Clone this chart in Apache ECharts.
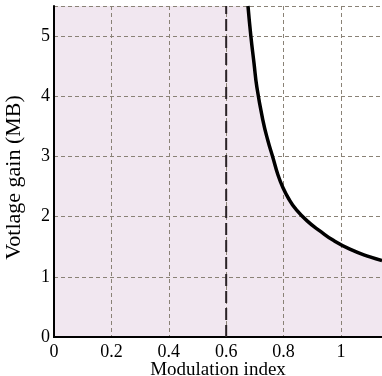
<!DOCTYPE html>
<html>
<head>
<meta charset="utf-8">
<script src="https://cdn.jsdelivr.net/npm/echarts@6/dist/echarts.min.js"></script>
<style>html,body{margin:0;padding:0;background:#fff}#c{width:382px;height:376px}</style>
</head>
<body>
<div id="c"></div>
<script>
// Data
var modIndex = [0.676, 0.686, 0.697, 0.707, 0.728, 0.745, 0.763, 0.78, 0.798, 0.82, 0.84, 0.882, 0.93, 0.972, 1.031, 1.101, 1.143];
var gain     = [5.5,   5.0,   4.55,  4.15,  3.6,   3.27,  2.98,  2.7,  2.48,  2.28, 2.14, 1.93,  1.75, 1.61,  1.46,  1.33,  1.27];
var refLineX = [0.6, 0.6];
var refLineY = [0, 5.5];
var xTicks = ['0', '0.2', '0.4', '0.6', '0.8', '1'];
var yTicks = ['0', '1', '2', '3', '4', '5'];
var xMax = 1.143, yMax = 5.5;

var curve = modIndex.map(function (m, i) { return [m, gain[i]]; });
var fill = [[0, yMax]].concat(curve);
var ref = refLineX.map(function (x, i) { return [x, refLineY[i]]; });

var font = '"Liberation Serif", "DejaVu Serif", serif';
var gridLine = {color: '#8a8276', type: [4, 3], width: 1};
var chart = echarts.init(document.getElementById('c'), null, {renderer: 'canvas'});
chart.setOption({
  animation: false,
  grid: {left: 54, top: 6, right: 0, bottom: 39, containLabel: false, outerBoundsMode: 'none'},
  xAxis: [{
    type: 'value', min: 0, max: xMax, interval: 0.2, z: 3,
    name: 'Modulation index', nameLocation: 'middle', nameGap: 24, nameMoveOverlap: false,
    nameTextStyle: {fontFamily: font, fontSize: 19, color: '#000'},
    axisLine: {show: true, onZero: false, lineStyle: {color: '#000', width: 2}},
    axisTick: {show: false},
    axisLabel: {fontFamily: font, fontSize: 18, color: '#000', margin: 6, showMaxLabel: false,
      formatter: function (v) { var k = Math.round(v / 0.2); return Math.abs(v - k * 0.2) < 1e-6 ? xTicks[k] : ''; }},
    splitLine: {show: true, lineStyle: gridLine}
  }, {
    type: 'value', position: 'top', min: 0, max: xMax, z: 3,
    axisLine: {show: true, lineStyle: {color: '#000', width: 2}},
    axisTick: {show: false}, axisLabel: {show: false}, splitLine: {show: false}
  }],
  yAxis: [{
    type: 'value', min: 0, max: yMax, interval: 1, z: 3,
    name: 'Votlage gain (MB)', nameLocation: 'middle', nameGap: 29,
    nameTextStyle: {fontFamily: font, fontSize: 22, color: '#000', padding: [0, 12, 0, 0]},
    axisLine: {show: true, onZero: false, lineStyle: {color: '#000', width: 2}},
    axisTick: {show: false},
    axisLabel: {fontFamily: font, fontSize: 18, color: '#000', margin: 4, showMaxLabel: false,
      formatter: function (v) { var k = Math.round(v); return Math.abs(v - k) < 1e-6 ? yTicks[k] : ''; }},
    splitLine: {show: true, lineStyle: gridLine}
  }],
  series: [{
    type: 'line', data: fill, symbol: 'none', smooth: 0.5,
    lineStyle: {width: 0}, areaStyle: {color: '#f1e7f0', opacity: 1}, z: 1, silent: true
  }, {
    type: 'line', data: ref, symbol: 'none',
    lineStyle: {color: '#2a2226', width: 2, type: [12, 5]}, z: 4
  }, {
    type: 'line', data: curve, symbol: 'none', smooth: 0.5,
    lineStyle: {color: '#000', width: 3.5}, z: 5
  }]
});
</script>
</body>
</html>
